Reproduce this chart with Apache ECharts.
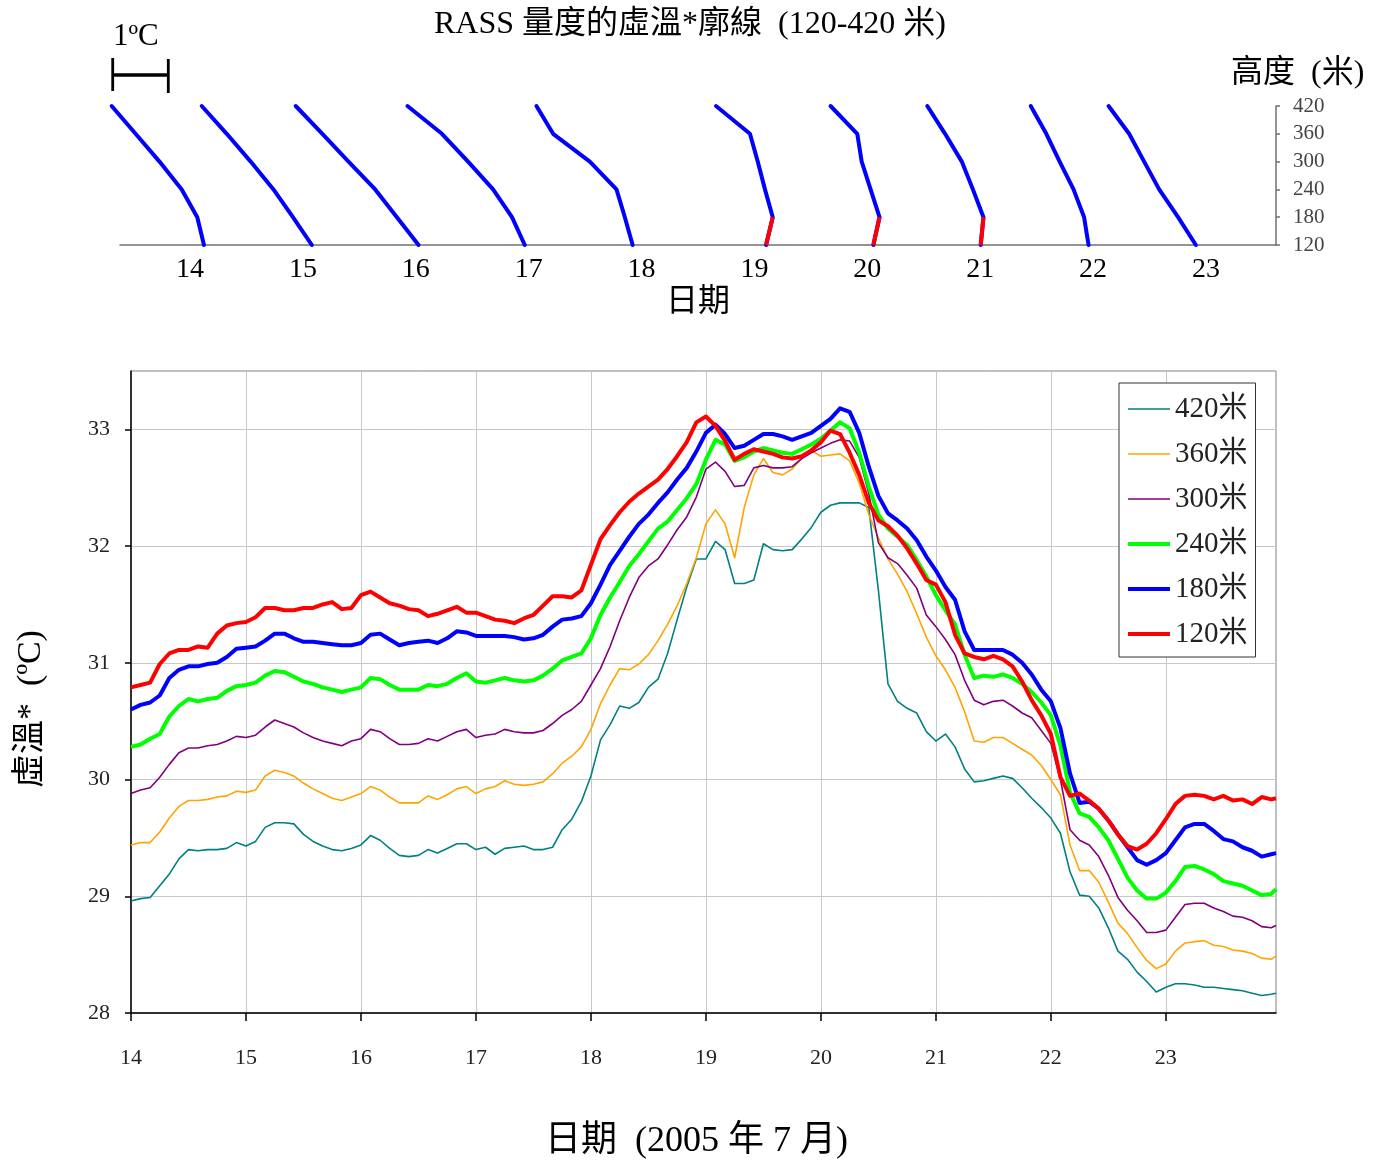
<!DOCTYPE html>
<html><head><meta charset="utf-8">
<script src="https://cdn.jsdelivr.net/npm/echarts@6/dist/echarts.min.js"></script>
<style>html,body{margin:0;padding:0;background:#fff}#c{width:1380px;height:1165px}</style>
</head><body><div id="c"></div>
<script>
const FONT = "'Liberation Serif','Noto Sans CJK TC',serif";

// ---------- bottom chart data (virtual temperature, deg C) ----------
const seriesNames = ['420米','360米','300米','240米','180米','120米'];
const seriesColors = ['#008080','#FFA500','#800080','#00FF00','#0000FF','#FF0000'];
const seriesWidths = [1.6,1.6,1.6,4,4,4];
// sample times: hours after 14 July 00:00 (every 2 h, plus the last hour)
const hours = [];
for (let h = 0; h <= 238; h += 2) hours.push(h);
hours.push(239);

const t420 = [
28.96,28.98,28.99,29.09,29.19,29.32,29.40,29.39,29.40,29.40,29.41,29.46,
29.43,29.47,29.59,29.63,29.63,29.62,29.53,29.47,29.43,29.40,29.39,29.41,
29.44,29.52,29.48,29.41,29.35,29.34,29.35,29.40,29.37,29.41,29.45,29.45,
29.40,29.42,29.36,29.41,29.42,29.43,29.40,29.40,29.42,29.57,29.66,29.81,
30.03,30.34,30.47,30.63,30.61,30.66,30.79,30.86,31.08,31.37,31.65,31.89,
31.89,32.04,31.97,31.68,31.68,31.71,32.02,31.97,31.96,31.97,32.06,32.16,
32.29,32.35,32.37,32.37,32.37,32.33,31.62,30.82,30.67,30.61,30.57,30.41,
30.33,30.39,30.28,30.09,29.98,
29.99,30.01,30.03,30.01,29.93,29.84,29.76,29.67,29.54,29.21,29.01,29.00,
28.90,28.73,28.53,28.46,28.35,28.27,28.18,28.22,28.25,28.25,28.24,28.22,
28.22,28.21,28.20,28.19,28.17,28.15,28.16,
28.17];
const t360 = [
29.44,29.46,29.46,29.55,29.67,29.77,29.82,29.82,29.83,29.85,29.86,29.90,
29.89,29.91,30.03,30.08,30.06,30.03,29.97,29.92,29.88,29.84,29.82,29.85,
29.88,29.94,29.91,29.85,29.80,29.80,29.80,29.86,29.83,29.87,29.92,29.94,
29.88,29.92,29.94,29.99,29.96,29.95,29.96,29.98,30.05,30.14,30.20,30.28,
30.43,30.65,30.81,30.95,30.94,30.99,31.07,31.19,31.33,31.49,31.68,31.90,
32.19,32.31,32.19,31.90,32.33,32.61,32.75,32.63,32.61,32.66,32.75,32.82,
32.77,32.78,32.79,32.73,32.54,32.27,32.07,31.89,31.76,31.61,31.42,31.22,
31.06,30.94,30.79,30.58,30.33,
30.32,30.36,30.36,30.31,30.26,30.21,30.12,30.00,29.87,29.44,29.22,29.22,
29.12,28.95,28.77,28.68,28.56,28.45,28.38,28.42,28.53,28.60,28.61,28.62,
28.58,28.57,28.54,28.53,28.51,28.47,28.46,
28.49];
const t300 = [
29.88,29.91,29.93,30.02,30.13,30.23,30.27,30.27,30.29,30.30,30.33,30.37,
30.36,30.38,30.45,30.51,30.48,30.45,30.40,30.36,30.33,30.31,30.29,30.33,
30.35,30.43,30.41,30.35,30.30,30.30,30.31,30.35,30.33,30.37,30.41,30.43,
30.36,30.38,30.39,30.43,30.41,30.40,30.40,30.42,30.48,30.55,30.60,30.67,
30.81,30.95,31.14,31.36,31.56,31.73,31.83,31.89,32.01,32.14,32.25,32.42,
32.66,32.72,32.64,32.51,32.52,32.67,32.69,32.67,32.67,32.68,32.75,32.80,
32.84,32.88,32.91,32.90,32.76,32.45,32.03,31.90,31.85,31.75,31.64,31.41,
31.31,31.20,31.07,30.85,30.68,
30.64,30.67,30.68,30.63,30.57,30.53,30.42,30.31,30.00,29.57,29.48,29.44,
29.34,29.18,28.99,28.88,28.79,28.69,28.69,28.71,28.82,28.93,28.94,28.94,
28.90,28.87,28.83,28.82,28.79,28.74,28.73,
28.75];
const t240 = [
30.28,30.30,30.35,30.39,30.54,30.63,30.69,30.67,30.69,30.70,30.76,30.80,
30.81,30.83,30.89,30.93,30.92,30.88,30.84,30.82,30.79,30.77,30.75,30.77,
30.79,30.87,30.86,30.81,30.77,30.77,30.77,30.81,30.80,30.82,30.87,30.91,
30.84,30.83,30.85,30.87,30.85,30.84,30.85,30.89,30.95,31.02,31.05,31.08,
31.21,31.41,31.56,31.69,31.83,31.93,32.04,32.15,32.21,32.31,32.41,32.53,
32.74,32.91,32.87,32.73,32.76,32.81,32.84,32.82,32.80,32.79,32.83,32.87,
32.92,32.99,33.06,33.01,32.80,32.51,32.27,32.15,32.08,32.01,31.88,31.74,
31.58,31.45,31.33,31.07,30.87,
30.89,30.88,30.90,30.87,30.82,30.75,30.66,30.55,30.29,29.89,29.71,29.68,
29.59,29.48,29.32,29.16,29.05,28.98,28.98,29.03,29.13,29.25,29.26,29.23,
29.19,29.13,29.11,29.09,29.05,29.01,29.02,
29.06];
const t180 = [
30.60,30.64,30.66,30.72,30.87,30.94,30.97,30.97,30.99,31.00,31.05,31.12,
31.13,31.14,31.19,31.25,31.25,31.21,31.18,31.18,31.17,31.16,31.15,31.15,
31.17,31.24,31.25,31.20,31.15,31.17,31.18,31.19,31.17,31.21,31.27,31.26,
31.23,31.23,31.23,31.23,31.22,31.20,31.21,31.24,31.31,31.37,31.38,31.40,
31.51,31.67,31.84,31.96,32.08,32.19,32.27,32.37,32.46,32.57,32.67,32.81,
32.97,33.04,32.96,32.84,32.86,32.91,32.96,32.96,32.94,32.91,32.94,32.97,
33.03,33.09,33.18,33.15,32.97,32.68,32.43,32.28,32.22,32.15,32.05,31.91,
31.79,31.65,31.54,31.27,31.11,
31.11,31.11,31.11,31.07,31.00,30.90,30.77,30.67,30.44,30.05,29.80,29.81,
29.75,29.65,29.53,29.42,29.31,29.27,29.31,29.37,29.48,29.59,29.62,29.62,
29.56,29.49,29.47,29.42,29.39,29.34,29.36,
29.37];
const t120 = [
30.79,30.81,30.83,30.99,31.08,31.11,31.11,31.14,31.13,31.25,31.32,31.34,
31.35,31.39,31.47,31.47,31.45,31.45,31.47,31.47,31.50,31.52,31.46,31.47,
31.58,31.61,31.56,31.51,31.49,31.46,31.45,31.40,31.42,31.45,31.48,31.43,
31.43,31.40,31.37,31.36,31.34,31.38,31.41,31.49,31.57,31.57,31.56,31.62,
31.84,32.06,32.18,32.29,32.38,32.45,32.51,32.57,32.66,32.77,32.89,33.06,
33.11,33.03,32.90,32.74,32.79,32.83,32.81,32.79,32.76,32.75,32.77,32.82,
32.89,32.99,32.96,32.80,32.61,32.37,32.22,32.17,32.09,31.98,31.85,31.71,
31.67,31.52,31.24,31.08,31.05,
31.03,31.06,31.03,30.97,30.84,30.68,30.55,30.39,30.02,29.86,29.88,29.82,
29.75,29.65,29.53,29.43,29.40,29.45,29.54,29.66,29.79,29.86,29.87,29.86,
29.83,29.86,29.82,29.83,29.79,29.85,29.83,
29.84];
const seriesValues = [t420, t360, t300, t240, t180, t120];
const xTickDays = [14,15,16,17,18,19,20,21,22,23];
const yTickValues = [28,29,30,31,32,33];

// ---------- top chart data: profile temperatures (relative deg C) ----------
const profileHeights = [120,180,240,300,360,420];
const profile14 = [1.51,1.39,1.11,0.71,0.28,-0.15];
const profile15 = [1.50,1.16,0.81,0.40,-0.03,-0.48];
const profile16 = [1.47,1.08,0.69,0.21,-0.26,-0.74];
const profile17 = [1.43,1.20,0.86,0.41,-0.06,-0.68];
const profile18 = [1.42,1.28,1.13,0.65,-0.01,-0.31];
const profile19 = [1.87,1.99,1.85,1.72,1.58,0.97];
const profile20 = [1.85,1.96,1.80,1.64,1.56,1.08];
const profile21 = [1.83,1.88,1.69,1.49,1.19,0.87];
const profile22 = [1.82,1.74,1.55,1.30,1.06,0.78];
const profile23 = [1.80,1.48,1.14,0.87,0.60,0.23];
const profileDays = [14,15,16,17,18,19,20,21,22,23];
const profiles = [profile14,profile15,profile16,profile17,profile18,profile19,profile20,profile21,profile22,profile23];

// layout constants
const DEG_PX = 55.6;          // pixels per 1 deg C in the profile panel
const DAY_SHIFT = 1.95;       // deg C shift between successive daily profiles
const AXIS_LEFT = 120, AXIS_RIGHT_GAP = 104, PROF_LEFT = 100;

const series = [];
profiles.forEach((p, di) => {
  const shift = DAY_SHIFT * (profileDays[di] - 14);
  series.push({
    type: 'line', xAxisIndex: 0, yAxisIndex: 0, symbol: 'none', clip: false, silent: true,
    lineStyle: { color: '#0000FF', width: 4, cap: 'round', join: 'round' },
    data: profileHeights.map((h, i) => [p[i] + shift, h])
  });
  for (let i = 0; i < p.length - 1; i++) {
    if (p[i + 1] > p[i]) {
      series.push({
        type: 'line', xAxisIndex: 0, yAxisIndex: 0, symbol: 'none', clip: false, silent: true, z: 3,
        lineStyle: { color: '#FF0000', width: 4 },
        data: [[p[i] + shift, profileHeights[i]], [p[i + 1] + shift, profileHeights[i + 1]]]
      });
    }
  }
});

seriesValues.forEach((vals, si) => {
  series.push({
    name: seriesNames[si], type: 'line', xAxisIndex: 2, yAxisIndex: 1,
    symbol: 'none', smooth: false,
    lineStyle: { color: seriesColors[si], width: seriesWidths[si], join: 'round' },
    itemStyle: { color: seriesColors[si] },
    data: vals.map((v, i) => [14 + hours[i] / 24, v])
  });
});

const legendData = seriesNames.map((n, i) => ({
  name: n,
  icon: 'path://M0,0h42v' + seriesWidths[i] + 'h-42z'
}));

const chart = echarts.init(document.getElementById('c'), null, { renderer: 'canvas' });
chart.setOption({
  backgroundColor: '#fff',
  animation: false,
  textStyle: { fontFamily: FONT },
  grid: [
    { left: PROF_LEFT, right: AXIS_RIGHT_GAP, top: 106, height: 139, outerBoundsMode: 'none' },
    { left: 131, right: 104, top: 371, height: 642, outerBoundsMode: 'none',
      show: true, borderColor: '#808080', borderWidth: 1 },
    { left: AXIS_LEFT, right: AXIS_RIGHT_GAP, top: 106, height: 139, outerBoundsMode: 'none' }
  ],
  xAxis: [
    { gridIndex: 0, type: 'value', position: 'bottom', show: false,
      min: (PROF_LEFT - AXIS_LEFT) / DEG_PX, max: (1380 - AXIS_RIGHT_GAP - AXIS_LEFT) / DEG_PX },
    { gridIndex: 2, type: 'value', min: 13.38, max: 23.62, position: 'bottom',
      axisLine: { show: true, onZero: false, lineStyle: { color: '#707070', width: 1.5 } },
      axisTick: { show: false }, splitLine: { show: false },
      axisLabel: { customValues: xTickDays, fontSize: 28, color: '#000', margin: 11, fontFamily: FONT },
      name: '日期', nameLocation: 'middle', nameGap: 42,
      nameTextStyle: { fontSize: 32, color: '#000', fontFamily: FONT } },
    { gridIndex: 1, type: 'value', min: 14, max: 23.958, interval: 1, position: 'bottom',
      axisLine: { show: true, onZero: false, lineStyle: { color: '#000', width: 1.5 } },
      axisTick: { show: true, customValues: xTickDays, length: 8, lineStyle: { color: '#000', width: 1.5 } },
      axisLabel: { customValues: xTickDays, fontSize: 22, color: '#222', margin: 34, fontFamily: FONT },
      splitLine: { show: true, lineStyle: { color: '#C8C8C8', width: 1 } },
      name: '日期  (2005 年 7 月)', nameLocation: 'middle', nameGap: 111,
      nameTextStyle: { fontSize: 36, color: '#000', fontFamily: FONT, padding: [0, 14, 0, 0] } }
  ],
  yAxis: [
    { gridIndex: 0, type: 'value', position: 'right', min: 120, max: 420, interval: 60,
      axisLine: { show: true, onZero: false, lineStyle: { color: '#707070', width: 1.5 } },
      axisTick: { show: true, length: 4, lineStyle: { color: '#707070', width: 1.5 } },
      axisLabel: { fontSize: 21, color: '#444', margin: 17, fontFamily: FONT },
      splitLine: { show: false } },
    { gridIndex: 1, type: 'value', min: 28, max: 33.5, interval: 1, position: 'left',
      axisLine: { show: true, onZero: false, lineStyle: { color: '#000', width: 1.5 } },
      axisTick: { show: true, customValues: yTickValues, length: 6, lineStyle: { color: '#000', width: 1.5 } },
      axisLabel: { customValues: yTickValues, fontSize: 22, color: '#222', margin: 21, fontFamily: FONT },
      splitLine: { show: true, lineStyle: { color: '#C8C8C8', width: 1 } } },
    { gridIndex: 2, type: 'value', min: 120, max: 420, show: false }
  ],
  legend: {
    data: legendData, orient: 'vertical', left: 1119, top: 383,
    itemWidth: 42, itemHeight: 14, itemGap: 15, padding: [11, 8, 8, 9],
    borderColor: '#333', borderWidth: 1, backgroundColor: '#fff',
    textStyle: { fontSize: 29, color: '#222', fontFamily: FONT, lineHeight: 30 },
    selectedMode: false
  },
  graphic: [
    { type: 'text', left: 'center', top: 9,
      style: { text: 'RASS 量度的虛溫*廓線  (120-420 米)', fontSize: 32, fill: '#000', fontFamily: FONT } },
    { type: 'text', left: 113, top: 21,
      style: { text: '1ºC', fontSize: 31, fill: '#000', fontFamily: FONT } },
    { type: 'text', left: 1231, top: 58,
      style: { text: '高度  (米)', fontSize: 32, fill: '#000', fontFamily: FONT } },
    { type: 'text', x: 31, y: 709, rotation: Math.PI / 2,
      style: { text: '虛溫*  (ºC)', fontSize: 34, fill: '#000', fontFamily: FONT,
               textAlign: 'center', textVerticalAlign: 'middle' } },
    { type: 'line', shape: { x1: 112.7, y1: 75, x2: 168.3, y2: 75 }, style: { stroke: '#000', lineWidth: 3.5 } },
    { type: 'line', shape: { x1: 112.7, y1: 58, x2: 112.7, y2: 91 }, style: { stroke: '#000', lineWidth: 2.8 } },
    { type: 'line', shape: { x1: 168.3, y1: 59, x2: 168.3, y2: 93 }, style: { stroke: '#000', lineWidth: 2.8 } }
  ],
  series: series
});
</script></body></html>
